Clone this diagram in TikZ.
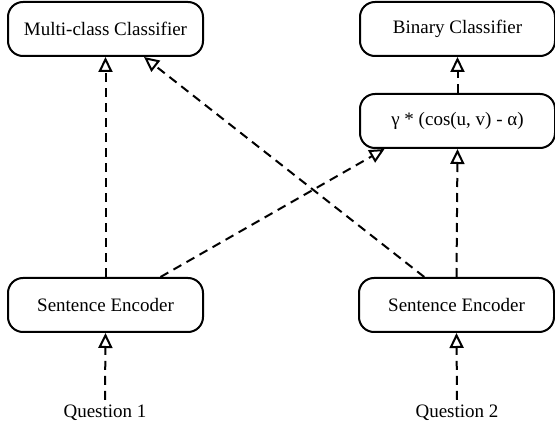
\documentclass[tikz,border=0pt]{standalone}
\usepackage{fontspec}
\setmainfont{Liberation Serif}
\usepackage{tikz}
\usetikzlibrary{arrows.meta,positioning}
\tikzset{
  blockbox/.style={rectangle, draw=black, line width=2pt, rounded corners=15pt,
    minimum width=195pt, minimum height=54pt, align=center, font=\fontsize{19}{22}\selectfont,
    inner sep=3pt},
  inputlabel/.style={font=\fontsize{19}{22}\selectfont, inner sep=5pt},
  flowarrow/.style={-{Triangle[open,length=15pt,width=14pt]}, draw=black,
    line width=2pt, dash pattern=on 9pt off 6pt},
}

\begin{document}
\begin{tikzpicture}[x=1pt, y=1pt]
  \useasboundingbox (0,0) rectangle (555,437);

  % Classifiers on top
  \node[blockbox] (multi) at (105.5,408) {Multi-class Classifier};
  \node[blockbox] (binary) at (457.5,408) {Binary Classifier};
  \node[blockbox] (sim) at (457.5,316) {γ * (cos(u, v) - α)};

  % Encoders and their inputs
  \node[blockbox] (encl) at (105.5,132) {Sentence Encoder};
  \node[blockbox] (encr) at (456.5,132) {Sentence Encoder};
  \node[inputlabel] (q1) at (105,24) {Question 1};
  \node[inputlabel] (q2) at (457,24) {Question 2};

  % Inputs into encoders
  \draw[flowarrow] (q1.north) -- (encl.south);
  \draw[flowarrow] (q2.north) -- (encr.south);

  % Left encoder outputs
  \draw[flowarrow] (encl.north) -- (multi.south);
  \draw[flowarrow] (encl.27) -- (sim.201);

  % Right encoder outputs
  \draw[flowarrow] (encr.139) -- (multi.324);
  \draw[flowarrow] (encr.north) -- (sim.south);

  % Similarity into binary classifier
  \draw[flowarrow] (sim.north) -- (binary.south);
\end{tikzpicture}
\end{document}
